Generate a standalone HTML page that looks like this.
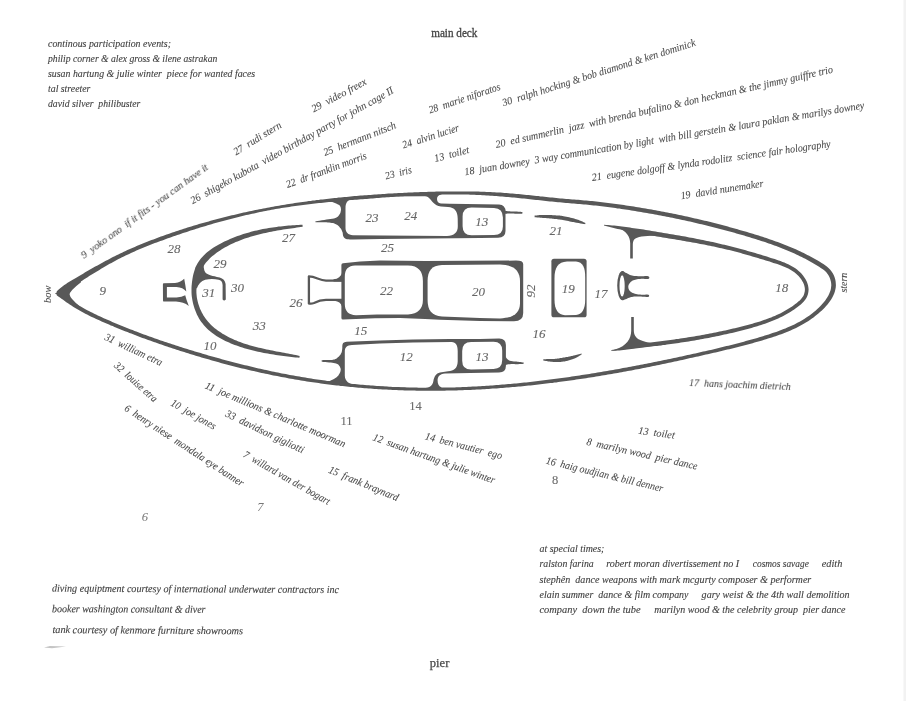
<!DOCTYPE html>
<html><head><meta charset="utf-8"><title>main deck</title>
<style>
html,body{margin:0;padding:0;background:#fff;}
body{width:906px;height:701px;overflow:hidden;font-family:"Liberation Serif",serif;}
svg{display:block;}
text{font-family:"Liberation Serif",serif;}
</style></head><body>
<svg width="906" height="701" viewBox="0 0 906 701">
<rect width="906" height="701" fill="#fff"/>
<rect x="903.5" y="0" width="2.5" height="701" fill="#f2f2f2"/>
<g fill="#585858"><path d="M331.0,201.7 L332.3,202.1 L333.6,202.6 L334.9,203.1 L336.1,203.5 L337.1,204.0 L338.0,204.4 L338.7,204.8 L339.3,205.2 L339.8,205.6 L340.2,206.2 L340.5,206.9 L340.8,207.8 L340.9,208.7 L341.0,209.7 L340.9,210.6 L340.7,211.5 L340.5,212.5 L340.1,213.4 L339.6,214.3 L339.1,215.1 L338.6,215.8 L338.0,216.4 L337.3,217.0 L336.5,217.5 L335.4,218.0 L334.0,218.4 L332.3,218.7 L330.4,219.0 L328.5,219.3 L326.5,219.6 L324.3,220.0 L321.9,220.3 L319.5,220.7 L317.5,221.0 L316.0,221.3 L315.3,221.5 L315.1,221.6 L315.2,221.7 L315.5,221.7 L315.6,221.8 L315.5,221.9 L315.4,222.0 L315.4,222.1 L315.5,222.2 L316.0,222.3 L316.8,222.3 L318.0,222.3 L319.3,222.3 L320.7,222.3 L322.1,222.3 L323.5,222.3 L324.9,222.3 L326.4,222.3 L327.8,222.4 L329.2,222.5 L330.5,222.7 L331.8,222.9 L333.1,223.1 L334.3,223.5 L335.4,223.9 L336.4,224.4 L337.4,225.1 L338.3,225.8 L339.1,226.6 L339.8,227.4 L340.5,228.2 L341.1,229.1 L341.6,230.1 L342.0,231.0 L342.4,231.9 L342.7,232.8 L342.8,233.8 L342.9,234.7 L343.0,235.5 L343.3,236.3 L343.7,237.0 L344.0,237.6 L344.5,238.1 L345.2,238.5 L346.0,238.9 L347.1,239.2 L348.5,239.3 L350.0,239.4 L351.5,239.5 L353.0,239.6 L380,239 L480,238.1 L498,237.7 Q505.5,237.5 505.5,231 L505.5,211.5 Q505.5,205 499,204.6 L450,203.8 L441,203.6 C438,203.3 437,201 437,199 C437,196.8 438.5,195 441.5,194.6 L441.5,193.0 L433.5,193.2 L425.5,193.4 L417.5,193.8 L409.5,194.2 L401.5,194.6 L393.5,195.1 L385.5,195.6 L377.5,196.2 L369.5,196.8 L361.5,197.4 L353.5,198.1 L345.5,198.8 L337.5,199.5 L331.0,200.2 Z"/>
<path d="M329.0,381.4 L330.3,380.8 L331.7,380.1 L333.0,379.4 L334.3,378.8 L335.4,378.1 L336.3,377.4 L337.1,376.8 L337.8,376.1 L338.4,375.4 L338.9,374.6 L339.4,373.7 L339.9,372.8 L340.3,371.9 L340.5,371.0 L340.7,370.1 L340.7,369.3 L340.6,368.6 L340.4,367.9 L340.1,367.2 L339.8,366.6 L339.4,366.0 L339.0,365.4 L338.5,364.8 L337.9,364.3 L337.1,363.9 L336.1,363.5 L335.0,363.3 L333.7,363.0 L332.3,362.8 L330.9,362.6 L329.2,362.4 L327.2,362.2 L325.3,362.0 L323.5,361.9 L322.3,361.7 L321.7,361.5 L321.5,361.4 L321.6,361.3 L321.8,361.1 L321.9,361.0 L321.8,360.8 L321.6,360.7 L321.5,360.5 L321.7,360.3 L322.3,360.2 L323.6,360.1 L325.3,360.1 L327.4,360.1 L329.3,360.1 L330.9,360.0 L332.1,359.9 L333.0,359.8 L333.9,359.6 L334.6,359.4 L335.4,359.1 L336.2,358.7 L336.9,358.2 L337.6,357.6 L338.3,357.0 L338.9,356.4 L339.5,355.8 L340.1,355.1 L340.6,354.4 L341.0,353.6 L341.4,352.9 L341.7,352.1 L341.9,351.3 L342.0,350.5 L342.1,349.7 L342.2,348.9 L342.3,348.1 L342.3,347.3 L342.3,346.6 L342.3,345.9 L342.4,345.2 L342.5,344.6 L342.7,344.0 L342.9,343.5 L343.2,343.1 L343.6,342.7 L344.1,342.4 L344.6,342.2 L345.3,342.1 L345.9,342.0 L346.5,341.8 L380,340.5 L413,339.6 L450,339.1 L480,339 L499,338.5 Q505.9,338.4 505.9,345 L505.9,366 Q505.9,372.4 499,372.5 L470,372.9 L445,373.5 C439.5,373.8 437.6,377 437.6,380.5 C437.6,384 439,386.6 441.5,387.3 L441.5,389.2 L433.5,389.3 L425.5,389.2 L417.5,389.2 L409.5,389.0 L401.5,388.8 L393.5,388.4 L385.5,388.0 L377.5,387.5 L369.5,387.0 L361.5,386.3 L353.5,385.6 L345.5,384.8 L337.5,383.9 L329.5,382.9 L329.0,382.8 Z"/>
<path d="M341.4,265 Q341.4,263.4 343,263.2 L360,261.4 L380,260.6 L425,260.9 L516,260.6 Q523.2,260.6 523.2,264 L523.2,313 Q523.2,321.2 514,321.3 L480,321 L440,319.8 L425,319 L400,318.1 L375,318.2 L343,319.6 Q341.4,319.6 341.4,318 Z"/>
<path d="M554,258.7 L584,258.7 Q586.6,258.7 586.6,261.3 L586.6,314.7 Q586.6,317.3 584,317.3 L554,317.3 Q551.4,317.3 551.4,314.7 L551.4,261.3 Q551.4,258.7 554,258.7 Z"/>
<ellipse cx="622.2" cy="285.6" rx="5.0" ry="14.4"/><path d="M621.6,271.3 L622.2,270.9 L623.0,271.1 L623.9,271.6 L624.7,272.2 L625.6,272.7 L626.4,273.1 L627.3,273.6 L628.2,274.1 L629.1,274.5 L630.0,274.9 L631.0,275.2 L632.0,275.5 L633.0,275.7 L634.1,275.9 L635.3,276.0 L636.6,276.1 L638.1,276.2 L639.6,276.2 L641.0,276.2 L642.4,276.2 L643.7,276.2 L645.0,276.1 L646.2,276.1 L647.3,276.1 L648.1,276.2 L648.7,276.4 L649.0,276.7 L649.2,277.0 L649.3,277.3 L649.3,277.6 L649.3,277.9 L649.2,278.2 L649.0,278.6 L648.7,278.8 L648.1,279.0 L647.2,279.1 L646.1,279.0 L644.9,278.9 L643.6,278.8 L642.4,278.8 L641.3,278.8 L640.2,278.9 L639.1,279.0 L638.1,279.1 L637.1,279.3 L636.1,279.5 L635.2,279.7 L634.3,279.9 L633.5,280.2 L632.7,280.6 L632.0,281.0 L631.3,281.6 L630.6,282.1 L630.1,282.7 L629.6,283.3 L629.2,283.9 L628.8,284.4 L628.6,285.0 L628.4,285.7 L628.3,286.3 L628.3,287.0 L628.4,287.7 L628.5,288.5 L628.8,289.2 L629.1,289.9 L629.5,290.5 L629.9,291.1 L630.4,291.6 L631.1,292.0 L631.8,292.5 L632.7,292.9 L633.7,293.3 L634.9,293.7 L636.0,294.0 L637.1,294.3 L638.2,294.5 L639.2,294.6 L640.3,294.6 L641.3,294.7 L642.4,294.7 L643.6,294.7 L644.9,294.7 L646.1,294.6 L647.3,294.6 L648.1,294.7 L648.6,294.8 L648.9,295.1 L649.1,295.3 L649.1,295.6 L649.1,295.8 L649.1,296.0 L649.1,296.3 L648.9,296.6 L648.6,296.8 L648.1,296.9 L647.3,296.9 L646.2,296.9 L645.0,296.8 L643.7,296.8 L642.4,296.7 L641.0,296.6 L639.6,296.6 L638.1,296.5 L636.6,296.5 L635.3,296.5 L634.1,296.6 L633.0,296.7 L632.0,296.9 L631.0,297.1 L630.0,297.4 L629.1,297.7 L628.2,298.1 L627.3,298.5 L626.4,298.9 L625.6,299.2 L624.7,299.5 L623.9,300.0 L623.0,300.3 L622.2,300.3 L621.6,299.9 L621.1,298.9 L620.7,297.6 L620.4,295.9 L620.2,294.0 L620.0,292.0 L619.9,289.8 L619.8,287.3 L619.8,284.8 L619.9,282.3 L620.0,280.0 L620.2,277.9 L620.4,275.8 L620.7,273.9 L621.1,272.3 Z"/>
<path d="M342,273 Q340.5,278.6 333.5,279.3 L333.5,281.4 L342,281.6 Z M342,306.6 Q340.5,301.6 334.5,300.8 L334.5,299 L342,299 Z"/></g>
<g fill="#fff"><path d="M345.5,208 C345.5,202.5 348,199.5 353,199.1 L380,196.6 L425,196.3 C429.5,196.5 431,201 433.9,203.3 C435.5,204.6 437,206.2 441,206.6 L448,206.9 C454.5,207.3 457.7,211 457.7,218.4 L457.8,226 C458,232.5 454,235.8 447,236 L353,235.2 C348,235 345.5,232 345.5,228 Z"/>
<path d="M471.6,207.5 L494,208.1 Q502.9,208.6 502.9,217.5 L502.9,226.5 Q502.9,235 494,235 L471.6,235.2 Q462.6,235.2 462.6,226.2 L462.6,216.5 Q462.6,207.5 471.6,207.5 Z"/>
<path d="M344.8,277 C344.8,269 348.5,265.9 355,265.6 L408,265.4 C418.5,265.6 422.9,271 422.9,281 L422.9,300 C422.9,309 418,313.8 408,314.4 L377,314.6 L356,315.2 C348.5,315 344.8,311 344.8,304 Z"/>
<path d="M427.6,281 C427.6,271 431.5,265.4 442,265 L500,264.5 C513,264.8 519.9,270 520,281.1 L520,303.4 C519.8,313 513,318 500,318.4 L480,317.9 L442,316.4 C431.5,315.8 427.6,310 427.6,300 Z"/>
<path d="M554.5,278 C554.5,268 558,262 567,261.6 L576,261.6 C583,262 585.2,268 585.2,277 L585.2,300 C585.2,309 582,314.6 576,315 L565,315.2 C558,315 554.5,309 554.5,300 Z"/>
<path d="M344.8,352 C344.8,347 347,345.2 352,345 L380,343.6 L413,342.6 L451.6,342.1 C456,342.4 457.7,345.5 457.7,351 L457.7,361.5 C457.5,368 454,371 448,371.3 L440,372.4 C436,373.2 434,377 433.4,381 C432.6,386.3 429,388.2 423.3,388.2 L410,388 L380,386.6 L356.6,385.2 C349,384.4 344.8,381 344.8,375.4 Z"/>
<path d="M471.2,341.9 L493.5,341.7 Q502.2,341.7 502.2,350.5 L502.2,360 Q502.2,368.8 493.5,368.9 L471.2,369.6 Q462.2,369.7 462.2,360.7 L462.2,350.9 Q462.2,341.9 471.2,341.9 Z"/>
<ellipse cx="622.1" cy="285.9" rx="2.6" ry="10.6"/></g>
<path d="M342,280.6 L326,280.6 C319,280.4 316,276.6 308.9,276.4 L308.9,303.4 C311,304.2 312.5,303.6 314,303 C318,301 321,300 326,299.9 L342,299.9" fill="none" stroke="#585858" stroke-width="2.3" stroke-linejoin="round" stroke-linecap="round"/>
<g fill="#585858"><path d="M57.3,292.9 L59.4,292.4 L61.3,291.8 L63.3,291.2 L65.1,290.4 L67.0,289.5 L68.8,288.6 L70.5,287.7 L72.3,286.7 L74.0,285.7 L75.7,284.6 L77.4,283.6 L79.1,282.5 L80.8,281.4 L82.5,280.4 L84.2,279.3 L85.9,278.2 L87.6,277.2 L89.2,276.1 L90.9,275.1 L92.6,274.0 L94.3,273.0 L96.0,271.9 L97.7,270.9 L99.4,269.9 L101.1,268.8 L102.9,267.8 L104.6,266.8 L106.3,265.8 L108.0,264.8 L109.7,263.8 L111.5,262.9 L113.2,261.9 L115.0,261.0 L116.7,260.0 L118.5,259.1 L120.2,258.2 L122.0,257.3 L123.8,256.5 L125.6,255.6 L127.4,254.7 L129.2,253.9 L131.0,253.1 L132.8,252.2 L134.6,251.4 L136.4,250.6 L138.2,249.8 L140.0,249.1 L141.9,248.3 L143.7,247.5 L145.6,246.8 L147.4,246.0 L149.3,245.3 L151.1,244.6 L153.0,243.8 L154.8,243.1 L156.7,242.4 L158.5,241.7 L160.4,241.0 L162.3,240.4 L164.2,239.7 L166.0,239.0 L167.9,238.3 L169.8,237.7 L171.7,237.0 L173.6,236.3 L175.4,235.7 L177.3,235.0 L179.2,234.4 L181.1,233.8 L183.0,233.1 L184.9,232.5 L186.8,231.9 L188.7,231.2 L190.6,230.6 L192.5,230.0 L194.4,229.4 L196.3,228.8 L198.2,228.2 L200.1,227.6 L202.0,227.0 L203.9,226.5 L205.8,225.9 L207.7,225.3 L209.6,224.7 L211.5,224.2 L213.5,223.6 L215.4,223.1 L217.3,222.5 L219.2,222.0 L221.1,221.5 L223.1,220.9 L225.0,220.4 L226.9,219.9 L228.8,219.4 L230.8,218.9 L232.7,218.4 L234.6,217.9 L236.6,217.4 L238.5,216.9 L240.4,216.5 L242.4,216.0 L244.3,215.6 L246.2,215.1 L248.2,214.7 L250.1,214.2 L252.1,213.8 L254.0,213.4 L256.0,212.9 L257.9,212.5 L259.9,212.1 L261.8,211.7 L263.8,211.3 L265.7,210.9 L267.7,210.6 L269.6,210.2 L271.6,209.8 L273.6,209.5 L275.5,209.1 L277.5,208.8 L279.5,208.4 L281.4,208.1 L283.4,207.8 L285.4,207.5 L287.3,207.2 L289.3,206.9 L291.3,206.6 L293.2,206.3 L295.2,206.0 L297.2,205.7 L299.2,205.5 L301.2,205.2 L303.1,205.0 L305.1,204.7 L307.1,204.5 L309.1,204.2 L311.1,204.0 L313.0,203.8 L315.0,203.5 L317.0,203.3 L319.0,203.1 L321.0,202.9 L323.0,202.7 L325.0,202.5 L326.9,202.3 L328.9,202.1 L330.9,201.9 L332.9,201.7 L334.9,201.5 L336.9,201.3 L338.9,201.2 L340.9,201.0 L342.9,200.8 L344.9,200.6 L346.8,200.5 L348.8,200.3 L350.8,200.1 L352.8,200.0 L354.8,199.8 L356.8,199.7 L358.8,199.5 L360.8,199.3 L362.8,199.2 L364.8,199.0 L366.8,198.9 L368.8,198.7 L370.8,198.6 L372.7,198.4 L374.7,198.3 L376.7,198.1 L378.7,197.9 L380.7,197.8 L382.7,197.6 L384.7,197.5 L386.7,197.3 L388.7,197.2 L390.7,197.0 L392.7,196.9 L394.7,196.8 L396.6,196.6 L398.6,196.5 L400.6,196.3 L402.6,196.2 L404.6,196.1 L406.6,195.9 L408.6,195.8 L410.6,195.7 L412.6,195.6 L414.6,195.5 L416.6,195.4 L418.5,195.3 L420.5,195.2 L422.5,195.1 L424.5,195.0 L426.5,194.9 L428.5,194.8 L430.5,194.8 L432.5,194.7 L434.5,194.6 L436.5,194.6 L438.5,194.5 L440.5,194.5 L442.5,194.5 L444.5,194.4 L446.5,194.4 L448.4,194.4 L450.4,194.4 L452.4,194.4 L454.4,194.4 L456.4,194.4 L458.4,194.4 L460.4,194.5 L462.4,194.5 L464.4,194.5 L466.4,194.6 L468.4,194.6 L470.4,194.7 L472.4,194.8 L474.4,194.8 L476.4,194.9 L478.4,195.0 L480.4,195.1 L482.3,195.2 L484.3,195.3 L486.3,195.4 L488.3,195.5 L490.3,195.7 L492.3,195.8 L494.3,195.9 L496.3,196.1 L498.3,196.2 L500.3,196.4 L502.2,196.5 L504.2,196.7 L506.2,196.9 L508.2,197.0 L510.2,197.2 L512.2,197.4 L514.1,197.6 L516.1,197.8 L518.1,198.0 L520.1,198.2 L522.1,198.4 L524.1,198.6 L526.1,198.8 L528.0,199.1 L530.0,199.3 L532.0,199.5 L534.0,199.7 L536.0,199.9 L538.0,200.1 L540.0,200.3 L542.0,200.6 L543.9,200.8 L545.9,201.0 L547.9,201.2 L549.9,201.4 L551.9,201.6 L553.9,201.8 L555.9,202.0 L557.9,202.2 L559.9,202.3 L561.9,202.5 L563.9,202.7 L565.9,202.9 L567.9,203.0 L569.9,203.2 L571.9,203.4 L573.9,203.5 L575.8,203.7 L577.8,203.9 L579.8,204.0 L581.8,204.2 L583.8,204.4 L585.8,204.6 L587.8,204.8 L589.7,205.0 L591.7,205.2 L593.7,205.4 L595.7,205.6 L597.7,205.8 L599.7,206.0 L601.6,206.3 L603.6,206.5 L605.6,206.8 L607.6,207.0 L609.5,207.3 L611.5,207.5 L613.5,207.8 L615.5,208.1 L617.4,208.4 L619.4,208.6 L621.4,208.9 L623.4,209.2 L625.3,209.5 L627.3,209.8 L629.3,210.1 L631.3,210.4 L633.2,210.7 L635.2,211.0 L637.2,211.4 L639.1,211.7 L641.1,212.0 L643.1,212.4 L645.0,212.7 L647.0,213.0 L649.0,213.4 L650.9,213.7 L652.9,214.1 L654.9,214.4 L656.8,214.8 L658.8,215.2 L660.7,215.5 L662.7,215.9 L664.7,216.3 L666.6,216.7 L668.6,217.1 L670.5,217.5 L672.5,217.8 L674.4,218.2 L676.4,218.7 L678.3,219.1 L680.3,219.5 L682.2,219.9 L684.2,220.3 L686.1,220.7 L688.1,221.2 L690.0,221.6 L692.0,222.0 L693.9,222.5 L695.9,222.9 L697.8,223.4 L699.8,223.9 L701.7,224.3 L703.6,224.8 L705.6,225.2 L707.5,225.7 L709.4,226.2 L711.4,226.7 L713.3,227.2 L715.2,227.7 L717.2,228.2 L719.1,228.7 L721.0,229.2 L723.0,229.7 L724.9,230.2 L726.8,230.7 L728.7,231.2 L730.7,231.8 L732.6,232.3 L734.5,232.8 L736.4,233.4 L738.3,233.9 L740.2,234.5 L742.2,235.0 L744.1,235.6 L746.0,236.2 L747.9,236.7 L749.8,237.3 L751.7,237.9 L753.6,238.5 L755.5,239.1 L757.4,239.7 L759.3,240.3 L761.2,240.9 L763.1,241.5 L765.0,242.1 L766.8,242.8 L768.7,243.4 L770.6,244.1 L772.5,244.7 L774.3,245.4 L776.2,246.1 L778.0,246.8 L779.9,247.5 L781.7,248.2 L783.6,248.9 L785.4,249.7 L787.3,250.4 L789.1,251.2 L790.9,252.0 L792.7,252.8 L794.5,253.6 L796.3,254.5 L798.1,255.3 L799.9,256.2 L801.7,257.0 L803.5,257.9 L805.3,258.8 L807.0,259.8 L808.8,260.7 L810.5,261.7 L812.3,262.7 L814.0,263.7 L815.7,264.7 L817.4,265.7 L819.1,266.8 L820.8,267.9 L822.4,269.0 L823.9,270.1 L825.3,271.3 L826.5,272.6 L827.6,274.0 L828.6,275.5 L829.4,277.0 L830.1,278.7 L830.6,280.4 L831.0,282.1 L831.2,283.8 L831.3,285.4 L831.1,287.1 L830.9,288.8 L830.5,290.4 L829.9,292.1 L829.2,293.7 L828.4,295.4 L827.5,297.0 L826.5,298.6 L825.4,300.2 L824.2,301.8 L822.9,303.3 L821.6,304.8 L820.2,306.3 L818.7,307.7 L817.3,309.1 L815.8,310.4 L814.2,311.7 L812.7,313.0 L811.1,314.2 L809.5,315.4 L807.9,316.5 L806.3,317.6 L804.6,318.7 L803.0,319.7 L801.3,320.7 L799.6,321.7 L797.9,322.6 L796.1,323.5 L794.4,324.4 L792.6,325.2 L790.9,326.0 L789.1,326.8 L787.3,327.6 L785.4,328.4 L783.6,329.1 L781.8,329.8 L779.9,330.5 L778.1,331.2 L776.2,331.9 L774.3,332.5 L772.5,333.1 L770.6,333.8 L768.7,334.4 L766.8,335.0 L764.9,335.6 L763.0,336.2 L761.1,336.7 L759.2,337.3 L757.3,337.9 L755.4,338.4 L753.5,339.0 L751.5,339.5 L749.6,340.1 L747.7,340.6 L745.8,341.1 L743.9,341.7 L741.9,342.2 L740.0,342.7 L738.1,343.2 L736.1,343.7 L734.2,344.2 L732.3,344.7 L730.3,345.2 L728.4,345.7 L726.5,346.1 L724.5,346.6 L722.6,347.1 L720.6,347.6 L718.7,348.0 L716.8,348.5 L714.8,348.9 L712.9,349.4 L710.9,349.9 L709.0,350.3 L707.0,350.8 L705.1,351.2 L703.1,351.6 L701.2,352.1 L699.2,352.5 L697.3,353.0 L695.3,353.4 L693.4,353.8 L691.4,354.3 L689.5,354.7 L687.5,355.1 L685.6,355.6 L683.6,356.0 L681.7,356.4 L679.7,356.8 L677.8,357.2 L675.8,357.7 L673.9,358.1 L671.9,358.5 L670.0,358.9 L668.0,359.3 L666.1,359.7 L664.1,360.1 L662.1,360.5 L660.2,360.9 L658.2,361.3 L656.3,361.7 L654.3,362.1 L652.4,362.5 L650.4,362.9 L648.4,363.3 L646.5,363.7 L644.5,364.1 L642.6,364.4 L640.6,364.8 L638.6,365.2 L636.7,365.6 L634.7,365.9 L632.8,366.3 L630.8,366.7 L628.8,367.1 L626.9,367.4 L624.9,367.8 L622.9,368.1 L621.0,368.5 L619.0,368.9 L617.0,369.2 L615.1,369.6 L613.1,369.9 L611.1,370.3 L609.2,370.6 L607.2,370.9 L605.2,371.3 L603.3,371.6 L601.3,371.9 L599.3,372.3 L597.4,372.6 L595.4,372.9 L593.4,373.3 L591.4,373.6 L589.5,373.9 L587.5,374.2 L585.5,374.5 L583.6,374.8 L581.6,375.1 L579.6,375.4 L577.6,375.7 L575.7,376.0 L573.7,376.3 L571.7,376.6 L569.7,376.9 L567.8,377.2 L565.8,377.5 L563.8,377.7 L561.8,378.0 L559.8,378.3 L557.9,378.6 L555.9,378.8 L553.9,379.1 L551.9,379.3 L549.9,379.6 L548.0,379.8 L546.0,380.1 L544.0,380.3 L542.0,380.6 L540.0,380.8 L538.1,381.1 L536.1,381.3 L534.1,381.5 L532.1,381.7 L530.1,382.0 L528.1,382.2 L526.2,382.4 L524.2,382.6 L522.2,382.8 L520.2,383.0 L518.2,383.2 L516.2,383.4 L514.3,383.6 L512.3,383.8 L510.3,384.0 L508.3,384.1 L506.3,384.3 L504.3,384.5 L502.3,384.6 L500.3,384.8 L498.4,385.0 L496.4,385.1 L494.4,385.3 L492.4,385.4 L490.4,385.6 L488.4,385.7 L486.4,385.8 L484.4,386.0 L482.4,386.1 L480.4,386.2 L478.5,386.3 L476.5,386.4 L474.5,386.5 L472.5,386.6 L470.5,386.7 L468.5,386.8 L466.5,386.9 L464.5,387.0 L462.5,387.1 L460.5,387.2 L458.5,387.2 L456.5,387.3 L454.6,387.4 L452.6,387.4 L450.6,387.5 L448.6,387.5 L446.6,387.6 L444.6,387.6 L442.6,387.6 L440.6,387.7 L438.6,387.7 L436.6,387.7 L434.6,387.7 L432.6,387.7 L430.6,387.7 L428.6,387.7 L426.6,387.7 L424.6,387.7 L422.6,387.7 L420.6,387.7 L418.6,387.7 L416.7,387.6 L414.7,387.6 L412.7,387.6 L410.7,387.5 L408.7,387.5 L406.7,387.4 L404.7,387.3 L402.7,387.3 L400.7,387.2 L398.7,387.1 L396.7,387.0 L394.7,386.9 L392.7,386.9 L390.7,386.8 L388.7,386.7 L386.7,386.5 L384.7,386.4 L382.7,386.3 L380.7,386.2 L378.7,386.1 L376.8,385.9 L374.8,385.8 L372.8,385.6 L370.8,385.5 L368.8,385.3 L366.8,385.2 L364.8,385.0 L362.8,384.8 L360.8,384.7 L358.8,384.5 L356.8,384.3 L354.9,384.1 L352.9,383.9 L350.9,383.7 L348.9,383.5 L346.9,383.3 L344.9,383.1 L342.9,382.8 L341.0,382.6 L339.0,382.4 L337.0,382.1 L335.0,381.9 L333.0,381.7 L331.0,381.4 L329.1,381.1 L327.1,380.9 L325.1,380.6 L323.1,380.3 L321.2,380.1 L319.2,379.8 L317.2,379.5 L315.2,379.2 L313.3,378.9 L311.3,378.6 L309.3,378.3 L307.3,377.9 L305.4,377.6 L303.4,377.3 L301.4,377.0 L299.5,376.6 L297.5,376.3 L295.6,375.9 L293.6,375.6 L291.6,375.2 L289.7,374.9 L287.7,374.5 L285.8,374.1 L283.8,373.8 L281.8,373.4 L279.9,373.0 L277.9,372.6 L276.0,372.2 L274.0,371.8 L272.1,371.4 L270.1,371.0 L268.2,370.5 L266.2,370.1 L264.3,369.7 L262.4,369.3 L260.4,368.8 L258.5,368.4 L256.5,367.9 L254.6,367.5 L252.7,367.0 L250.7,366.6 L248.8,366.1 L246.8,365.6 L244.9,365.2 L243.0,364.7 L241.0,364.2 L239.1,363.7 L237.2,363.2 L235.2,362.7 L233.3,362.2 L231.4,361.7 L229.5,361.2 L227.5,360.7 L225.6,360.2 L223.7,359.7 L221.8,359.2 L219.8,358.6 L217.9,358.1 L216.0,357.6 L214.1,357.0 L212.2,356.5 L210.2,355.9 L208.3,355.4 L206.4,354.8 L204.5,354.3 L202.6,353.7 L200.7,353.1 L198.7,352.6 L196.8,352.0 L194.9,351.4 L193.0,350.8 L191.1,350.3 L189.2,349.7 L187.3,349.1 L185.4,348.5 L183.5,347.9 L181.6,347.3 L179.7,346.7 L177.8,346.1 L175.9,345.5 L174.0,344.8 L172.1,344.2 L170.2,343.6 L168.3,343.0 L166.4,342.3 L164.5,341.7 L162.6,341.1 L160.7,340.4 L158.8,339.8 L156.9,339.1 L155.0,338.4 L153.2,337.8 L151.3,337.1 L149.4,336.4 L147.5,335.8 L145.7,335.1 L143.8,334.4 L141.9,333.7 L140.0,333.0 L138.2,332.3 L136.3,331.6 L134.5,330.9 L132.6,330.1 L130.7,329.4 L128.9,328.7 L127.0,328.0 L125.2,327.2 L123.3,326.5 L121.5,325.7 L119.6,325.0 L117.8,324.2 L116.0,323.4 L114.1,322.7 L112.3,321.9 L110.5,321.1 L108.7,320.3 L106.8,319.5 L105.0,318.7 L103.2,317.9 L101.4,317.1 L99.6,316.3 L97.8,315.4 L96.0,314.6 L94.2,313.7 L92.5,312.8 L90.7,312.0 L88.9,311.1 L87.2,310.2 L85.4,309.2 L83.7,308.3 L82.0,307.3 L80.3,306.3 L78.6,305.4 L76.9,304.3 L75.2,303.3 L73.5,302.3 L71.8,301.2 L70.2,300.1 L68.5,299.0 L66.8,297.9 L65.0,296.8 L63.2,295.8 L61.4,294.9 L59.4,294.2 L57.4,293.7 L56.7,295.3 L58.3,296.4 L59.9,297.6 L61.5,298.7 L63.1,299.8 L64.7,301.0 L66.3,302.2 L68.0,303.3 L69.7,304.5 L71.4,305.6 L73.1,306.7 L74.8,307.7 L76.5,308.8 L78.3,309.8 L80.0,310.8 L81.8,311.8 L83.6,312.7 L85.3,313.7 L87.1,314.6 L88.9,315.5 L90.7,316.4 L92.5,317.3 L94.3,318.1 L96.2,319.0 L98.0,319.8 L99.8,320.6 L101.6,321.4 L103.5,322.2 L105.3,323.0 L107.1,323.8 L109.0,324.6 L110.8,325.4 L112.7,326.1 L114.5,326.9 L116.4,327.7 L118.2,328.4 L120.1,329.2 L121.9,329.9 L123.8,330.7 L125.7,331.4 L127.5,332.1 L129.4,332.9 L131.3,333.6 L133.1,334.3 L135.0,335.0 L136.9,335.7 L138.7,336.5 L140.6,337.2 L142.5,337.9 L144.4,338.6 L146.3,339.2 L148.1,339.9 L150.0,340.6 L151.9,341.3 L153.8,342.0 L155.7,342.6 L157.6,343.3 L159.5,343.9 L161.4,344.6 L163.3,345.3 L165.2,345.9 L167.1,346.5 L169.0,347.2 L170.9,347.8 L172.8,348.4 L174.7,349.1 L176.6,349.7 L178.5,350.3 L180.4,350.9 L182.3,351.5 L184.2,352.1 L186.1,352.7 L188.1,353.3 L190.0,353.9 L191.9,354.5 L193.8,355.1 L195.7,355.7 L197.6,356.3 L199.6,356.8 L201.5,357.4 L203.4,358.0 L205.3,358.5 L207.3,359.1 L209.2,359.6 L211.1,360.2 L213.0,360.7 L215.0,361.3 L216.9,361.8 L218.8,362.3 L220.8,362.9 L222.7,363.4 L224.6,363.9 L226.6,364.4 L228.5,364.9 L230.4,365.4 L232.4,365.9 L234.3,366.4 L236.2,366.9 L238.2,367.4 L240.1,367.9 L242.1,368.4 L244.0,368.8 L246.0,369.3 L247.9,369.8 L249.8,370.2 L251.8,370.7 L253.7,371.1 L255.7,371.6 L257.7,372.0 L259.6,372.4 L261.6,372.9 L263.5,373.3 L265.5,373.7 L267.4,374.1 L269.4,374.5 L271.3,375.0 L273.3,375.4 L275.3,375.7 L277.2,376.1 L279.2,376.5 L281.2,376.9 L283.1,377.3 L285.1,377.6 L287.1,378.0 L289.0,378.4 L291.0,378.7 L293.0,379.1 L294.9,379.4 L296.9,379.8 L298.9,380.1 L300.9,380.4 L302.8,380.7 L304.8,381.1 L306.8,381.4 L308.8,381.7 L310.8,382.0 L312.7,382.3 L314.7,382.6 L316.7,382.8 L318.7,383.1 L320.7,383.4 L322.7,383.7 L324.7,383.9 L326.6,384.2 L328.6,384.4 L330.6,384.7 L332.6,384.9 L334.6,385.2 L336.6,385.4 L338.6,385.6 L340.6,385.9 L342.6,386.1 L344.6,386.3 L346.6,386.5 L348.6,386.7 L350.6,386.9 L352.6,387.1 L354.5,387.3 L356.5,387.5 L358.5,387.7 L360.5,387.8 L362.5,388.0 L364.5,388.2 L366.5,388.3 L368.5,388.5 L370.5,388.6 L372.5,388.8 L374.5,388.9 L376.5,389.0 L378.5,389.2 L380.5,389.3 L382.5,389.4 L384.6,389.5 L386.6,389.6 L388.6,389.7 L390.6,389.8 L392.6,389.9 L394.6,390.0 L396.6,390.1 L398.6,390.2 L400.6,390.2 L402.6,390.3 L404.6,390.4 L406.6,390.4 L408.6,390.5 L410.6,390.5 L412.6,390.6 L414.6,390.6 L416.6,390.7 L418.6,390.7 L420.6,390.7 L422.6,390.7 L424.6,390.8 L426.6,390.8 L428.6,390.8 L430.6,390.8 L432.6,390.8 L434.6,390.8 L436.6,390.8 L438.6,390.7 L440.6,390.7 L442.6,390.7 L444.6,390.7 L446.6,390.6 L448.6,390.6 L450.6,390.6 L452.6,390.5 L454.6,390.5 L456.6,390.4 L458.6,390.3 L460.6,390.3 L462.6,390.2 L464.6,390.1 L466.6,390.0 L468.6,390.0 L470.6,389.9 L472.6,389.8 L474.6,389.7 L476.6,389.6 L478.6,389.5 L480.6,389.4 L482.6,389.3 L484.6,389.2 L486.6,389.0 L488.6,388.9 L490.6,388.8 L492.6,388.6 L494.6,388.5 L496.6,388.4 L498.6,388.2 L500.6,388.1 L502.6,387.9 L504.6,387.8 L506.6,387.6 L508.6,387.4 L510.6,387.3 L512.6,387.1 L514.6,386.9 L516.6,386.7 L518.5,386.6 L520.5,386.4 L522.5,386.2 L524.5,386.0 L526.5,385.8 L528.5,385.6 L530.5,385.4 L532.5,385.2 L534.5,384.9 L536.5,384.7 L538.5,384.5 L540.4,384.3 L542.4,384.1 L544.4,383.8 L546.4,383.6 L548.4,383.3 L550.4,383.1 L552.4,382.9 L554.4,382.6 L556.3,382.4 L558.3,382.1 L560.3,381.8 L562.3,381.6 L564.3,381.3 L566.3,381.0 L568.3,380.8 L570.2,380.5 L572.2,380.2 L574.2,379.9 L576.2,379.6 L578.2,379.3 L580.2,379.1 L582.1,378.8 L584.1,378.5 L586.1,378.2 L588.1,377.8 L590.1,377.5 L592.0,377.2 L594.0,376.9 L596.0,376.6 L598.0,376.3 L599.9,375.9 L601.9,375.6 L603.9,375.3 L605.9,375.0 L607.8,374.6 L609.8,374.3 L611.8,373.9 L613.8,373.6 L615.7,373.2 L617.7,372.9 L619.7,372.5 L621.6,372.2 L623.6,371.8 L625.6,371.5 L627.6,371.1 L629.5,370.7 L631.5,370.4 L633.5,370.0 L635.4,369.6 L637.4,369.2 L639.4,368.9 L641.3,368.5 L643.3,368.1 L645.2,367.7 L647.2,367.3 L649.2,366.9 L651.1,366.5 L653.1,366.1 L655.1,365.7 L657.0,365.3 L659.0,364.9 L660.9,364.5 L662.9,364.1 L664.8,363.7 L666.8,363.3 L668.8,362.8 L670.7,362.4 L672.7,362.0 L674.6,361.6 L676.6,361.2 L678.5,360.7 L680.5,360.3 L682.4,359.9 L684.4,359.4 L686.3,359.0 L688.3,358.6 L690.2,358.1 L692.2,357.7 L694.1,357.3 L696.1,356.8 L698.1,356.4 L700.0,355.9 L702.0,355.5 L703.9,355.1 L705.9,354.6 L707.8,354.2 L709.8,353.7 L711.7,353.3 L713.7,352.8 L715.6,352.4 L717.6,351.9 L719.5,351.5 L721.5,351.0 L723.4,350.6 L725.4,350.1 L727.3,349.6 L729.3,349.2 L731.2,348.7 L733.2,348.2 L735.1,347.7 L737.1,347.2 L739.0,346.8 L740.9,346.3 L742.9,345.8 L744.8,345.3 L746.8,344.7 L748.7,344.2 L750.6,343.7 L752.6,343.2 L754.5,342.6 L756.4,342.1 L758.4,341.5 L760.3,341.0 L762.2,340.4 L764.1,339.8 L766.0,339.2 L768.0,338.6 L769.9,338.0 L771.8,337.4 L773.7,336.8 L775.6,336.2 L777.5,335.5 L779.4,334.8 L781.3,334.2 L783.2,333.4 L785.0,332.7 L786.9,332.0 L788.8,331.2 L790.6,330.4 L792.5,329.6 L794.3,328.8 L796.1,327.9 L797.9,327.0 L799.7,326.1 L801.5,325.1 L803.3,324.1 L805.0,323.1 L806.7,322.0 L808.5,320.9 L810.2,319.8 L811.9,318.6 L813.5,317.4 L815.2,316.1 L816.8,314.8 L818.4,313.5 L820.0,312.1 L821.6,310.7 L823.1,309.2 L824.6,307.7 L826.1,306.1 L827.5,304.5 L828.8,302.8 L830.1,301.1 L831.3,299.3 L832.3,297.5 L833.3,295.6 L834.1,293.7 L834.8,291.7 L835.3,289.7 L835.7,287.7 L835.9,285.6 L835.8,283.5 L835.6,281.3 L835.2,279.2 L834.5,277.1 L833.7,275.0 L832.6,273.1 L831.4,271.2 L830.0,269.5 L828.5,267.9 L826.8,266.5 L825.1,265.2 L823.4,264.0 L821.6,262.9 L819.8,261.8 L818.1,260.8 L816.3,259.7 L814.5,258.7 L812.7,257.7 L810.9,256.8 L809.1,255.8 L807.3,254.9 L805.5,253.9 L803.7,253.0 L801.9,252.2 L800.0,251.3 L798.2,250.4 L796.3,249.6 L794.5,248.8 L792.6,248.0 L790.8,247.2 L788.9,246.4 L787.1,245.7 L785.2,244.9 L783.3,244.2 L781.5,243.5 L779.6,242.7 L777.7,242.0 L775.8,241.4 L773.9,240.7 L772.0,240.0 L770.1,239.4 L768.2,238.7 L766.3,238.1 L764.4,237.4 L762.5,236.8 L760.6,236.2 L758.7,235.6 L756.8,235.0 L754.9,234.4 L752.9,233.8 L751.0,233.2 L749.1,232.7 L747.2,232.1 L745.3,231.5 L743.3,231.0 L741.4,230.4 L739.5,229.9 L737.6,229.3 L735.6,228.8 L733.7,228.2 L731.8,227.7 L729.8,227.2 L727.9,226.6 L726.0,226.1 L724.0,225.6 L722.1,225.1 L720.2,224.6 L718.2,224.1 L716.3,223.6 L714.3,223.1 L712.4,222.6 L710.5,222.1 L708.5,221.6 L706.6,221.1 L704.6,220.7 L702.7,220.2 L700.7,219.7 L698.8,219.3 L696.8,218.8 L694.9,218.4 L692.9,217.9 L691.0,217.5 L689.0,217.1 L687.0,216.6 L685.1,216.2 L683.1,215.8 L681.2,215.3 L679.2,214.9 L677.2,214.5 L675.3,214.1 L673.3,213.7 L671.4,213.3 L669.4,212.9 L667.4,212.5 L665.5,212.2 L663.5,211.8 L661.5,211.4 L659.6,211.0 L657.6,210.7 L655.6,210.3 L653.6,209.9 L651.7,209.6 L649.7,209.2 L647.7,208.9 L645.7,208.6 L643.8,208.2 L641.8,207.9 L639.8,207.6 L637.8,207.2 L635.9,206.9 L633.9,206.6 L631.9,206.3 L629.9,206.0 L627.9,205.7 L626.0,205.4 L624.0,205.1 L622.0,204.8 L620.0,204.5 L618.0,204.3 L616.0,204.0 L614.0,203.7 L612.1,203.5 L610.1,203.2 L608.1,202.9 L606.1,202.7 L604.1,202.5 L602.1,202.2 L600.1,202.0 L598.1,201.8 L596.1,201.5 L594.1,201.3 L592.1,201.1 L590.2,200.9 L588.2,200.7 L586.2,200.5 L584.2,200.4 L582.2,200.2 L580.2,200.0 L578.2,199.8 L576.2,199.7 L574.2,199.5 L572.2,199.4 L570.2,199.2 L568.2,199.0 L566.2,198.9 L564.2,198.7 L562.2,198.5 L560.3,198.4 L558.3,198.2 L556.3,198.0 L554.3,197.8 L552.3,197.6 L550.3,197.4 L548.3,197.2 L546.4,197.0 L544.4,196.8 L542.4,196.6 L540.4,196.4 L538.4,196.1 L536.4,195.9 L534.4,195.7 L532.4,195.5 L530.5,195.3 L528.5,195.1 L526.5,194.9 L524.5,194.7 L522.5,194.5 L520.5,194.3 L518.5,194.1 L516.5,193.9 L514.5,193.7 L512.5,193.5 L510.5,193.4 L508.5,193.2 L506.5,193.0 L504.5,192.9 L502.5,192.7 L500.5,192.6 L498.5,192.5 L496.5,192.4 L494.5,192.3 L492.5,192.2 L490.5,192.1 L488.5,192.0 L486.5,191.9 L484.5,191.8 L482.5,191.7 L480.5,191.7 L478.5,191.6 L476.5,191.6 L474.5,191.5 L472.5,191.5 L470.5,191.5 L468.5,191.4 L466.5,191.4 L464.5,191.4 L462.4,191.4 L460.4,191.4 L458.4,191.4 L456.4,191.4 L454.4,191.4 L452.4,191.4 L450.4,191.4 L448.4,191.4 L446.4,191.5 L444.4,191.5 L442.4,191.5 L440.4,191.6 L438.4,191.6 L436.4,191.6 L434.4,191.7 L432.4,191.7 L430.4,191.8 L428.4,191.8 L426.4,191.9 L424.4,192.0 L422.4,192.0 L420.4,192.1 L418.4,192.2 L416.4,192.2 L414.4,192.3 L412.4,192.4 L410.4,192.5 L408.4,192.6 L406.4,192.7 L404.4,192.8 L402.4,192.9 L400.4,193.0 L398.4,193.1 L396.4,193.2 L394.4,193.3 L392.4,193.4 L390.4,193.5 L388.4,193.6 L386.4,193.8 L384.4,193.9 L382.5,194.0 L380.5,194.2 L378.5,194.3 L376.5,194.4 L374.5,194.6 L372.5,194.7 L370.5,194.9 L368.5,195.0 L366.5,195.2 L364.5,195.3 L362.5,195.5 L360.5,195.6 L358.5,195.8 L356.5,196.0 L354.5,196.1 L352.5,196.3 L350.5,196.5 L348.5,196.7 L346.5,196.9 L344.5,197.1 L342.5,197.3 L340.5,197.4 L338.5,197.6 L336.5,197.9 L334.6,198.1 L332.6,198.3 L330.6,198.5 L328.6,198.7 L326.6,198.9 L324.6,199.2 L322.6,199.4 L320.6,199.6 L318.6,199.9 L316.6,200.1 L314.6,200.4 L312.7,200.6 L310.7,200.9 L308.7,201.1 L306.7,201.4 L304.7,201.7 L302.7,202.0 L300.7,202.2 L298.8,202.5 L296.8,202.8 L294.8,203.1 L292.8,203.4 L290.8,203.7 L288.9,204.0 L286.9,204.3 L284.9,204.7 L282.9,205.0 L281.0,205.3 L279.0,205.7 L277.0,206.0 L275.0,206.3 L273.1,206.7 L271.1,207.1 L269.1,207.4 L267.2,207.8 L265.2,208.2 L263.2,208.5 L261.3,208.9 L259.3,209.3 L257.3,209.7 L255.4,210.1 L253.4,210.5 L251.5,210.9 L249.5,211.3 L247.5,211.8 L245.6,212.2 L243.6,212.6 L241.7,213.1 L239.7,213.5 L237.8,213.9 L235.8,214.4 L233.9,214.9 L231.9,215.3 L230.0,215.8 L228.0,216.3 L226.1,216.8 L224.1,217.2 L222.2,217.7 L220.3,218.2 L218.3,218.7 L216.4,219.3 L214.5,219.8 L212.5,220.3 L210.6,220.8 L208.7,221.4 L206.7,221.9 L204.8,222.4 L202.9,223.0 L200.9,223.5 L199.0,224.1 L197.1,224.7 L195.2,225.2 L193.3,225.8 L191.3,226.4 L189.4,227.0 L187.5,227.6 L185.6,228.2 L183.7,228.8 L181.8,229.4 L179.9,230.0 L178.0,230.7 L176.1,231.3 L174.2,231.9 L172.3,232.6 L170.4,233.2 L168.5,233.9 L166.6,234.5 L164.7,235.2 L162.8,235.9 L160.9,236.6 L159.0,237.3 L157.1,238.0 L155.3,238.7 L153.4,239.4 L151.5,240.1 L149.6,240.8 L147.8,241.5 L145.9,242.3 L144.0,243.0 L142.2,243.8 L140.3,244.5 L138.5,245.3 L136.6,246.1 L134.8,246.9 L132.9,247.7 L131.1,248.5 L129.3,249.3 L127.4,250.1 L125.6,251.0 L123.8,251.8 L122.0,252.7 L120.1,253.5 L118.3,254.4 L116.5,255.3 L114.7,256.2 L112.9,257.1 L111.1,258.0 L109.4,258.9 L107.6,259.9 L105.8,260.8 L104.0,261.8 L102.3,262.7 L100.5,263.7 L98.8,264.7 L97.0,265.7 L95.2,266.6 L93.5,267.6 L91.8,268.6 L90.0,269.6 L88.3,270.6 L86.5,271.6 L84.8,272.6 L83.1,273.7 L81.3,274.7 L79.6,275.7 L77.9,276.7 L76.2,277.7 L74.5,278.7 L72.7,279.7 L71.0,280.8 L69.3,281.8 L67.6,282.8 L66.0,283.9 L64.3,285.1 L62.7,286.2 L61.1,287.5 L59.6,288.7 L58.1,290.1 L56.6,291.5 Z"/>
<path d="M55,293.4 L80,276.6 L81,282.2 Q69.5,291 69.6,294.6 Q70,298.5 80,306.6 L80,309.3 Z"/>
<path d="M302.5,224.7 L300.5,224.8 L298.5,224.9 L296.5,225.0 L294.6,225.2 L292.6,225.3 L290.6,225.5 L288.6,225.6 L286.6,225.8 L284.6,226.0 L282.6,226.2 L280.6,226.4 L278.6,226.6 L276.6,226.9 L274.6,227.2 L272.7,227.4 L270.7,227.7 L268.7,228.1 L266.7,228.4 L264.7,228.8 L262.8,229.1 L260.8,229.5 L258.8,229.9 L256.9,230.4 L254.9,230.8 L252.9,231.3 L251.0,231.8 L249.1,232.4 L247.1,232.9 L245.2,233.5 L243.3,234.1 L241.4,234.7 L239.4,235.4 L237.5,236.0 L235.6,236.8 L233.8,237.5 L231.9,238.2 L230.0,239.0 L228.1,239.9 L226.3,240.7 L224.4,241.6 L222.6,242.5 L220.8,243.4 L218.9,244.4 L217.1,245.4 L215.3,246.5 L213.6,247.6 L211.8,248.7 L210.1,249.9 L208.4,251.2 L206.8,252.5 L205.2,253.9 L203.7,255.4 L202.3,256.9 L200.9,258.5 L199.6,260.2 L198.4,261.9 L197.3,263.8 L196.3,265.7 L195.5,267.6 L194.7,269.7 L194.1,271.7 L193.5,273.8 L193.0,275.8 L192.6,277.9 L192.3,280.0 L192.0,282.0 L191.8,284.1 L191.6,286.1 L191.5,288.2 L191.5,290.2 L191.5,292.3 L191.6,294.4 L191.8,296.5 L192.1,298.6 L192.5,300.7 L192.9,302.7 L193.4,304.8 L194.0,306.8 L194.6,308.8 L195.4,310.8 L196.2,312.8 L197.0,314.7 L198.0,316.6 L199.0,318.4 L200.1,320.2 L201.3,322.0 L202.6,323.6 L203.9,325.2 L205.3,326.8 L206.7,328.3 L208.2,329.7 L209.8,331.0 L211.3,332.3 L213.0,333.6 L214.7,334.8 L216.4,335.9 L218.1,337.0 L219.9,338.1 L221.7,339.1 L223.5,340.0 L225.3,340.9 L227.2,341.8 L229.1,342.6 L230.9,343.4 L232.8,344.2 L234.7,344.9 L236.6,345.6 L238.6,346.3 L240.5,347.0 L242.4,347.6 L244.3,348.2 L246.3,348.7 L248.2,349.3 L250.2,349.8 L252.1,350.3 L254.1,350.8 L256.0,351.3 L258.0,351.7 L259.9,352.1 L261.9,352.5 L263.9,352.9 L265.8,353.3 L267.8,353.6 L269.8,354.0 L271.8,354.3 L273.7,354.6 L275.7,354.9 L277.7,355.2 L279.7,355.5 L281.6,355.7 L283.6,356.0 L285.6,356.3 L287.6,356.5 L289.6,356.7 L291.5,356.9 L293.5,357.2 L295.5,357.4 L297.4,357.6 L299.4,357.8 L299.7,355.9 L297.8,355.5 L295.8,355.1 L293.9,354.7 L291.9,354.3 L290.0,353.9 L288.0,353.6 L286.1,353.2 L284.1,352.8 L282.2,352.5 L280.2,352.1 L278.3,351.7 L276.3,351.4 L274.4,351.0 L272.4,350.6 L270.5,350.2 L268.5,349.8 L266.6,349.4 L264.7,349.0 L262.7,348.6 L260.8,348.1 L258.9,347.7 L257.0,347.2 L255.1,346.7 L253.2,346.2 L251.3,345.7 L249.4,345.2 L247.5,344.6 L245.6,344.0 L243.8,343.4 L241.9,342.7 L240.1,342.1 L238.3,341.4 L236.4,340.6 L234.6,339.9 L232.8,339.1 L231.0,338.3 L229.3,337.4 L227.5,336.5 L225.8,335.6 L224.1,334.6 L222.5,333.7 L220.9,332.6 L219.3,331.6 L217.7,330.5 L216.2,329.3 L214.7,328.2 L213.3,326.9 L211.9,325.7 L210.6,324.4 L209.3,323.1 L208.1,321.7 L206.9,320.2 L205.7,318.8 L204.7,317.2 L203.6,315.7 L202.7,314.0 L201.8,312.4 L200.9,310.6 L200.1,308.9 L199.4,307.1 L198.8,305.3 L198.2,303.5 L197.7,301.6 L197.3,299.7 L196.9,297.8 L196.7,295.9 L196.5,294.1 L196.4,292.2 L196.4,290.3 L196.5,288.4 L196.7,286.6 L197.0,284.7 L197.3,282.8 L197.7,281.0 L198.1,279.1 L198.7,277.2 L199.2,275.4 L199.8,273.6 L200.5,271.8 L201.3,270.2 L202.1,268.6 L202.9,267.0 L203.9,265.5 L204.9,264.0 L206.0,262.6 L207.2,261.2 L208.4,259.9 L209.7,258.6 L211.0,257.3 L212.4,256.1 L213.9,254.9 L215.4,253.7 L216.9,252.5 L218.5,251.4 L220.1,250.4 L221.8,249.3 L223.5,248.3 L225.2,247.3 L226.9,246.4 L228.6,245.5 L230.4,244.6 L232.1,243.8 L233.9,242.9 L235.7,242.1 L237.5,241.4 L239.3,240.7 L241.1,239.9 L242.9,239.3 L244.8,238.6 L246.6,238.0 L248.5,237.4 L250.4,236.8 L252.2,236.2 L254.1,235.7 L256.0,235.2 L257.9,234.7 L259.8,234.2 L261.7,233.8 L263.6,233.3 L265.6,232.9 L267.5,232.5 L269.4,232.1 L271.4,231.7 L273.3,231.3 L275.2,231.0 L277.2,230.6 L279.1,230.3 L281.1,230.0 L283.1,229.6 L285.0,229.3 L287.0,229.0 L288.9,228.7 L290.9,228.4 L292.9,228.2 L294.8,227.9 L296.8,227.6 L298.8,227.3 L300.7,227.0 L302.7,226.8 Z"/>
<path d="M203.6,264 C203.6,269 204.5,272.2 206.5,273.5 C209,275 211.8,275.8 219.7,277.5 C223,278.4 225.2,280.5 225.6,284 L225.8,299.6 Q224.2,301.4 222.6,299.6 L222.6,285 C222.4,281.6 221,280.3 218.5,279.8 C215,279 210,278.8 205.2,279.8 C201,281 198.3,284 196.8,288.6 L192.3,285 L196,266 Z"/>
<path d="M603.9,225.5 L605.9,226.0 L607.8,226.5 L609.8,227.0 L611.7,227.5 L613.7,227.9 L615.6,228.4 L617.6,228.9 L619.5,229.3 L621.5,229.7 L623.4,230.2 L625.4,230.6 L627.4,231.0 L629.3,231.4 L631.3,231.8 L633.2,232.1 L635.2,232.5 L637.1,232.9 L639.1,233.3 L641.1,233.6 L643.0,234.0 L645.0,234.3 L647.0,234.7 L648.9,235.0 L650.9,235.4 L652.9,235.7 L654.8,236.0 L656.8,236.4 L658.8,236.7 L660.8,237.0 L662.7,237.4 L664.7,237.7 L666.7,238.0 L668.7,238.4 L670.6,238.7 L672.6,239.0 L674.6,239.3 L676.6,239.7 L678.5,240.0 L680.5,240.3 L682.5,240.7 L684.5,241.0 L686.4,241.4 L688.4,241.7 L690.4,242.1 L692.3,242.4 L694.3,242.8 L696.3,243.1 L698.2,243.5 L700.2,243.9 L702.2,244.2 L704.1,244.6 L706.1,245.0 L708.0,245.4 L710.0,245.8 L711.9,246.2 L713.9,246.6 L715.8,247.0 L717.7,247.4 L719.7,247.9 L721.6,248.3 L723.5,248.8 L725.4,249.2 L727.4,249.7 L729.3,250.1 L731.2,250.6 L733.1,251.1 L735.0,251.6 L737.0,252.1 L738.9,252.6 L740.8,253.1 L742.7,253.7 L744.6,254.2 L746.5,254.7 L748.4,255.3 L750.3,255.8 L752.3,256.4 L754.2,256.9 L756.1,257.5 L758.0,258.1 L759.9,258.7 L761.9,259.2 L763.8,259.8 L765.7,260.4 L767.6,261.0 L769.6,261.6 L771.5,262.3 L773.4,262.9 L775.4,263.5 L777.3,264.1 L779.2,264.8 L781.1,265.5 L782.9,266.2 L784.8,266.9 L786.5,267.7 L788.3,268.6 L790.0,269.5 L791.6,270.4 L793.2,271.4 L794.7,272.5 L796.1,273.7 L797.5,275.0 L798.8,276.3 L800.0,277.7 L801.2,279.3 L802.2,280.9 L803.1,282.6 L803.9,284.3 L804.4,286.1 L804.8,287.9 L804.9,289.6 L804.8,291.3 L804.4,293.0 L803.9,294.7 L803.2,296.2 L802.2,297.6 L801.1,299.0 L799.8,300.4 L798.3,301.6 L796.8,302.9 L795.3,304.1 L793.7,305.3 L792.1,306.4 L790.4,307.5 L788.8,308.6 L787.1,309.6 L785.4,310.6 L783.7,311.6 L782.0,312.5 L780.2,313.4 L778.4,314.2 L776.6,315.1 L774.8,315.9 L773.0,316.6 L771.2,317.4 L769.4,318.1 L767.5,318.8 L765.6,319.5 L763.8,320.1 L761.9,320.8 L760.0,321.4 L758.1,322.0 L756.2,322.6 L754.3,323.1 L752.4,323.7 L750.4,324.2 L748.5,324.7 L746.6,325.3 L744.6,325.8 L742.7,326.3 L740.8,326.8 L738.9,327.2 L736.9,327.7 L735.0,328.2 L733.1,328.6 L731.1,329.1 L729.2,329.5 L727.3,330.0 L725.3,330.4 L723.4,330.8 L721.4,331.2 L719.5,331.6 L717.6,332.0 L715.6,332.4 L713.7,332.8 L711.7,333.2 L709.8,333.6 L707.8,333.9 L705.9,334.3 L703.9,334.7 L701.9,335.0 L700.0,335.4 L698.0,335.7 L696.1,336.0 L694.1,336.4 L692.1,336.7 L690.1,337.0 L688.2,337.3 L686.2,337.7 L684.2,338.0 L682.2,338.3 L680.3,338.6 L678.3,338.9 L676.3,339.1 L674.3,339.4 L672.3,339.7 L670.4,340.0 L668.4,340.2 L666.4,340.5 L664.4,340.8 L662.4,341.0 L660.5,341.3 L658.5,341.5 L656.5,341.8 L654.5,342.0 L652.5,342.2 L650.6,342.5 L648.6,342.7 L646.6,343.0 L644.6,343.2 L642.6,343.5 L640.6,343.8 L638.6,344.2 L636.7,344.6 L634.7,345.0 L632.7,345.5 L630.8,345.9 L628.8,346.4 L626.9,346.9 L625.0,347.4 L623.0,347.8 L621.1,348.3 L619.1,348.7 L617.2,349.1 L615.2,349.4 L613.3,349.7 L611.3,350.0 L611.3,350.8 L613.3,350.8 L615.4,350.7 L617.4,350.6 L619.4,350.4 L621.4,350.2 L623.4,350.0 L625.4,349.8 L627.4,349.6 L629.4,349.3 L631.4,349.1 L633.4,348.8 L635.3,348.5 L637.3,348.2 L639.3,348.0 L641.2,347.7 L643.2,347.5 L645.1,347.3 L647.1,347.0 L649.1,346.8 L651.0,346.6 L653.0,346.3 L655.0,346.1 L657.0,345.9 L659.0,345.6 L661.0,345.4 L663.0,345.1 L665.0,344.9 L666.9,344.6 L668.9,344.3 L670.9,344.0 L672.9,343.8 L674.9,343.5 L676.9,343.2 L678.9,342.9 L680.9,342.6 L682.9,342.3 L684.8,342.0 L686.8,341.7 L688.8,341.4 L690.8,341.0 L692.8,340.7 L694.8,340.4 L696.7,340.0 L698.7,339.7 L700.7,339.3 L702.7,339.0 L704.6,338.6 L706.6,338.2 L708.6,337.9 L710.5,337.5 L712.5,337.1 L714.4,336.7 L716.4,336.3 L718.4,335.9 L720.3,335.5 L722.3,335.1 L724.2,334.6 L726.2,334.2 L728.1,333.8 L730.1,333.3 L732.0,332.9 L734.0,332.4 L735.9,331.9 L737.8,331.5 L739.8,331.0 L741.7,330.5 L743.7,330.0 L745.6,329.5 L747.6,328.9 L749.5,328.4 L751.5,327.9 L753.4,327.3 L755.3,326.7 L757.3,326.2 L759.2,325.6 L761.1,324.9 L763.1,324.3 L765.0,323.7 L766.9,323.0 L768.8,322.3 L770.7,321.6 L772.6,320.8 L774.5,320.0 L776.3,319.2 L778.2,318.4 L780.0,317.6 L781.8,316.7 L783.7,315.7 L785.4,314.8 L787.2,313.8 L789.0,312.8 L790.7,311.7 L792.5,310.6 L794.2,309.5 L795.8,308.3 L797.5,307.0 L799.1,305.8 L800.8,304.4 L802.3,303.0 L803.8,301.5 L805.2,299.8 L806.4,298.0 L807.3,296.1 L808.0,294.0 L808.4,291.8 L808.6,289.6 L808.4,287.4 L808.0,285.2 L807.3,283.1 L806.5,281.0 L805.4,279.0 L804.2,277.2 L803.0,275.4 L801.6,273.8 L800.1,272.3 L798.6,270.9 L797.0,269.6 L795.3,268.3 L793.6,267.2 L791.8,266.2 L790.0,265.2 L788.2,264.3 L786.3,263.4 L784.4,262.6 L782.5,261.9 L780.5,261.1 L778.6,260.4 L776.6,259.8 L774.7,259.1 L772.7,258.5 L770.8,257.9 L768.8,257.3 L766.9,256.6 L765.0,256.0 L763.0,255.4 L761.1,254.8 L759.2,254.3 L757.2,253.7 L755.3,253.1 L753.4,252.5 L751.5,252.0 L749.5,251.4 L747.6,250.9 L745.7,250.3 L743.8,249.8 L741.8,249.3 L739.9,248.8 L738.0,248.3 L736.1,247.7 L734.1,247.2 L732.2,246.7 L730.3,246.3 L728.3,245.8 L726.4,245.3 L724.5,244.8 L722.5,244.4 L720.6,243.9 L718.6,243.5 L716.7,243.0 L714.7,242.6 L712.8,242.1 L710.8,241.7 L708.9,241.3 L706.9,240.9 L704.9,240.5 L703.0,240.1 L701.0,239.7 L699.0,239.3 L697.1,238.9 L695.1,238.5 L693.1,238.1 L691.2,237.7 L689.2,237.4 L687.2,237.0 L685.2,236.6 L683.3,236.3 L681.3,235.9 L679.3,235.6 L677.3,235.2 L675.4,234.9 L673.4,234.5 L671.4,234.2 L669.4,233.9 L667.4,233.5 L665.5,233.2 L663.5,232.9 L661.5,232.5 L659.5,232.2 L657.6,231.9 L655.6,231.6 L653.6,231.2 L651.6,230.9 L649.7,230.6 L647.7,230.3 L645.7,230.0 L643.8,229.6 L641.8,229.3 L639.8,229.0 L637.9,228.7 L635.9,228.4 L633.9,228.2 L631.9,227.9 L630.0,227.6 L628.0,227.3 L626.0,227.1 L624.0,226.8 L622.0,226.5 L620.1,226.3 L618.1,226.1 L616.1,225.8 L614.1,225.6 L612.1,225.4 L610.1,225.2 L608.1,225.0 L606.1,224.9 L604.1,224.7 Z"/>
<path d="M630.2,258.4 L630.2,244 C630.4,237 627,231.5 618,227.5 L604,225 L668,236 C650,235.2 638,235.6 634.2,239.5 C633,241 632.8,243 632.8,246 L632.8,258.4 Z"/><path d="M631.2,317 L631.2,331 C631,338.5 627,346 615,349.6 L611.3,350.7 L662,345 C650,342.6 640,341.6 636.4,337.5 C634.3,335 633.8,333 633.8,330 L633.8,317 Z"/>
<path d="M534.6,217.2 L535.4,217.3 L536.2,217.3 L536.9,217.4 L537.7,217.5 L538.5,217.5 L539.3,217.6 L540.1,217.7 L541.0,217.7 L541.9,217.8 L542.8,217.9 L543.8,218.0 L544.8,218.0 L545.9,218.1 L546.9,218.2 L547.9,218.3 L548.8,218.3 L549.7,218.4 L550.6,218.5 L551.6,218.6 L552.4,218.7 L553.3,218.8 L554.2,218.9 L555.0,219.0 L555.8,219.0 L556.6,219.1 L557.3,219.2 L558.0,219.3 L558.6,219.4 L559.3,219.4 L560.0,219.5 L560.8,219.7 L561.8,219.8 L562.9,220.0 L564.1,220.3 L565.5,220.5 L566.9,220.8 L568.4,221.1 L569.8,221.4 L571.1,221.7 L572.3,221.9 L573.4,222.1 L574.4,222.3 L575.3,222.5 L576.3,222.7 L577.1,222.8 L578.0,223.0 L578.8,223.1 L579.6,223.3 L580.4,223.4 L581.1,223.6 L581.8,223.7 L582.5,223.8 L583.1,223.9 L583.8,224.0 L584.4,224.1 L585.1,224.3 L585.5,223.1 L584.9,222.8 L584.3,222.5 L583.7,222.2 L583.1,221.9 L582.5,221.6 L581.8,221.3 L581.1,221.0 L580.4,220.7 L579.6,220.4 L578.8,220.1 L578.0,219.8 L577.1,219.5 L576.2,219.2 L575.2,218.9 L574.2,218.6 L573.1,218.3 L571.9,218.0 L570.6,217.7 L569.2,217.3 L567.7,217.0 L566.3,216.7 L564.9,216.4 L563.6,216.2 L562.4,216.0 L561.4,215.8 L560.5,215.7 L559.8,215.6 L559.0,215.5 L558.3,215.5 L557.6,215.4 L556.9,215.4 L556.2,215.4 L555.3,215.3 L554.5,215.3 L553.6,215.2 L552.7,215.2 L551.8,215.1 L550.9,215.1 L549.9,215.1 L549.0,215.1 L548.0,215.0 L547.0,215.0 L546.0,215.0 L545.0,215.0 L543.9,215.0 L542.9,215.0 L542.0,215.0 L541.0,215.1 L540.1,215.1 L539.3,215.1 L538.5,215.2 L537.7,215.3 L536.9,215.4 L536.2,215.4 L535.4,215.5 L534.6,215.6 Z"/><path d="M503.9,214.0 L504.3,214.0 L504.7,213.9 L505.1,213.8 L505.5,213.8 L505.9,213.8 L506.3,213.7 L506.9,213.7 L507.4,213.6 L508.1,213.6 L508.9,213.6 L509.7,213.6 L510.6,213.6 L511.5,213.6 L512.4,213.6 L513.2,213.6 L514.0,213.6 L514.7,213.7 L515.4,213.7 L516.0,213.7 L516.7,213.7 L517.3,213.7 L517.9,213.7 L518.4,213.7 L519.0,213.7 L519.5,213.7 L519.9,213.7 L520.4,213.7 L520.8,213.7 L521.2,213.7 L521.6,213.7 L522.0,213.7 L522.4,213.6 L522.4,212.0 L522.0,211.9 L521.6,211.9 L521.2,211.9 L520.8,211.8 L520.4,211.8 L520.0,211.8 L519.5,211.7 L519.0,211.7 L518.5,211.7 L517.9,211.7 L517.3,211.6 L516.7,211.6 L516.1,211.6 L515.4,211.6 L514.7,211.6 L514.0,211.6 L513.3,211.5 L512.4,211.5 L511.6,211.4 L510.7,211.4 L509.8,211.3 L509.0,211.3 L508.2,211.2 L507.6,211.2 L507.0,211.1 L506.5,211.0 L506.1,210.9 L505.7,210.8 L505.3,210.7 L504.9,210.6 L504.5,210.5 L504.1,210.4 Z"/><path d="M503.5,366.4 L503.9,366.2 L504.2,365.9 L504.6,365.7 L505.0,365.5 L505.3,365.2 L505.7,365.0 L506.1,364.9 L506.5,364.7 L506.9,364.6 L507.2,364.5 L507.6,364.4 L508.0,364.3 L508.5,364.3 L508.9,364.3 L509.3,364.2 L509.8,364.2 L510.3,364.2 L510.8,364.1 L511.3,364.1 L511.8,364.1 L512.3,364.1 L512.8,364.1 L513.4,364.1 L513.9,364.1 L514.5,364.1 L515.1,364.2 L515.8,364.2 L516.4,364.2 L517.1,364.2 L517.7,364.2 L518.3,364.2 L519.0,364.1 L519.6,364.1 L520.2,364.1 L520.7,364.0 L521.3,364.0 L521.9,363.9 L522.5,363.9 L523.1,363.8 L523.7,363.8 L523.7,362.6 L523.1,362.5 L522.6,362.4 L522.0,362.3 L521.4,362.2 L520.8,362.1 L520.2,362.0 L519.6,361.9 L519.0,361.9 L518.4,361.8 L517.8,361.7 L517.1,361.7 L516.5,361.6 L515.9,361.6 L515.2,361.6 L514.6,361.5 L514.1,361.5 L513.5,361.4 L513.0,361.3 L512.5,361.3 L512.0,361.2 L511.5,361.1 L511.0,361.0 L510.6,360.9 L510.2,360.8 L509.8,360.7 L509.4,360.5 L509.1,360.4 L508.8,360.2 L508.5,360.0 L508.1,359.8 L507.8,359.6 L507.5,359.3 L507.2,359.0 L507.0,358.7 L506.7,358.4 L506.5,358.0 L506.2,357.7 L506.0,357.3 L505.7,356.9 L505.5,356.6 Z"/><path d="M543.3,360.5 L544.1,360.7 L544.9,360.8 L545.8,361.0 L546.6,361.1 L547.5,361.2 L548.3,361.4 L549.1,361.5 L549.9,361.6 L550.7,361.7 L551.5,361.8 L552.3,361.8 L553.0,361.9 L553.8,362.0 L554.5,362.0 L555.3,362.0 L556.1,362.0 L556.9,362.1 L557.6,362.0 L558.4,362.0 L559.2,362.0 L560.0,361.9 L560.7,361.9 L561.5,361.8 L562.3,361.7 L563.0,361.6 L563.8,361.5 L564.6,361.4 L565.4,361.3 L566.1,361.1 L566.9,360.9 L567.7,360.8 L568.4,360.5 L569.2,360.3 L570.0,360.1 L570.8,359.8 L571.6,359.5 L572.4,359.3 L573.1,359.0 L573.8,358.7 L574.5,358.4 L575.1,358.2 L575.6,357.9 L576.1,357.7 L576.6,357.4 L577.1,357.2 L577.5,356.9 L577.9,356.7 L578.4,356.4 L578.8,356.2 L579.3,355.9 L579.7,355.6 L580.2,355.4 L580.6,355.1 L581.0,354.8 L581.4,354.5 L581.9,354.3 L581.5,353.5 L581.0,353.7 L580.6,353.8 L580.1,353.9 L579.6,354.1 L579.1,354.2 L578.6,354.3 L578.1,354.4 L577.6,354.6 L577.1,354.7 L576.6,354.8 L576.2,354.9 L575.7,355.1 L575.2,355.2 L574.7,355.3 L574.1,355.4 L573.5,355.6 L572.9,355.7 L572.2,355.9 L571.4,356.0 L570.6,356.2 L569.9,356.4 L569.1,356.5 L568.3,356.7 L567.6,356.9 L566.8,357.0 L566.1,357.1 L565.4,357.3 L564.6,357.4 L563.9,357.5 L563.2,357.6 L562.5,357.7 L561.7,357.9 L561.0,358.0 L560.3,358.1 L559.5,358.2 L558.8,358.4 L558.1,358.5 L557.4,358.6 L556.6,358.7 L555.9,358.8 L555.2,358.8 L554.5,358.9 L553.8,358.9 L553.1,358.9 L552.3,358.9 L551.6,359.0 L550.8,359.0 L550.1,359.0 L549.3,359.0 L548.4,359.1 L547.6,359.1 L546.8,359.1 L545.9,359.2 L545.0,359.2 L544.2,359.2 L543.3,359.3 Z"/>
<path d="M163.8,283.3 L175,283 Q181,282.2 184.2,278.8 Q185.4,285 186.3,291.4 Q183,287.2 176.5,286.9 L166.9,286.9 L166.9,297.5 L176.5,297.4 Q182,297 185.2,295.2 Q186.4,300 188.8,305.9 Q183.5,301.9 176,301.6 L164.2,301.6 Q163,301.6 163,300.4 L162.9,284.4 Q162.9,283.3 163.8,283.3 Z"/></g>
<path d="M44,647.5 L50,646 L66,646.6 L52,648.3 Z" fill="#c4c4c4"/>
<g opacity="0.999"><text transform="translate(48.0 47.0) rotate(0.0)" textLength="123.0" lengthAdjust="spacingAndGlyphs" style="font-size:10.6px;font-style:italic;" fill="#3e3e3e" stroke="#3e3e3e" stroke-width="0.12" xml:space="preserve">continous participation events;</text>
<text transform="translate(48.0 62.4) rotate(0.0)" textLength="169.3" lengthAdjust="spacingAndGlyphs" style="font-size:10.6px;font-style:italic;" fill="#3e3e3e" stroke="#3e3e3e" stroke-width="0.12" xml:space="preserve">philip corner &amp; alex gross &amp; ilene astrakan</text>
<text transform="translate(48.0 77.4) rotate(0.0)" textLength="207.2" lengthAdjust="spacingAndGlyphs" style="font-size:10.6px;font-style:italic;" fill="#3e3e3e" stroke="#3e3e3e" stroke-width="0.12" xml:space="preserve">susan hartung &amp; julie winter  piece for wanted faces</text>
<text transform="translate(48.0 92.0) rotate(0.0)" textLength="42.4" lengthAdjust="spacingAndGlyphs" style="font-size:10.6px;font-style:italic;" fill="#3e3e3e" stroke="#3e3e3e" stroke-width="0.12" xml:space="preserve">tal streeter</text>
<text transform="translate(48.0 107.0) rotate(0.0)" textLength="92.4" lengthAdjust="spacingAndGlyphs" style="font-size:10.6px;font-style:italic;" fill="#3e3e3e" stroke="#3e3e3e" stroke-width="0.12" xml:space="preserve">david silver  philibuster</text>
<text transform="translate(84.0 259.0) rotate(-35.8)" textLength="154.0" lengthAdjust="spacingAndGlyphs" style="font-size:10.6px;font-style:italic;" fill="#4a4a4a" stroke="#4a4a4a" stroke-width="0.08" xml:space="preserve">9  yoko ono  if it fits - you can have it</text>
<text transform="translate(236.0 155.6) rotate(-31.8)" textLength="54.3" lengthAdjust="spacingAndGlyphs" style="font-size:10.6px;font-style:italic;" fill="#4a4a4a" stroke="#4a4a4a" stroke-width="0.08" xml:space="preserve">27  rudi stern</text>
<text transform="translate(192.8 204.3) rotate(-29.0)" textLength="230.4" lengthAdjust="spacingAndGlyphs" style="font-size:10.6px;font-style:italic;" fill="#4a4a4a" stroke="#4a4a4a" stroke-width="0.08" xml:space="preserve">26  shigeko kubota  video birthday party for john cage II</text>
<text transform="translate(313.7 112.4) rotate(-28.1)" textLength="60.9" lengthAdjust="spacingAndGlyphs" style="font-size:10.6px;font-style:italic;" fill="#4a4a4a" stroke="#4a4a4a" stroke-width="0.08" xml:space="preserve">29  video freex</text>
<text transform="translate(324.9 156.1) rotate(-21.4)" textLength="77.2" lengthAdjust="spacingAndGlyphs" style="font-size:10.6px;font-style:italic;" fill="#4a4a4a" stroke="#4a4a4a" stroke-width="0.08" xml:space="preserve">25  hermann nitsch</text>
<text transform="translate(287.5 188.1) rotate(-20.3)" textLength="85.2" lengthAdjust="spacingAndGlyphs" style="font-size:10.6px;font-style:italic;" fill="#4a4a4a" stroke="#4a4a4a" stroke-width="0.08" xml:space="preserve">22  dr franklin morris</text>
<text transform="translate(430.0 113.6) rotate(-18.8)" textLength="75.1" lengthAdjust="spacingAndGlyphs" style="font-size:10.6px;font-style:italic;" fill="#4a4a4a" stroke="#4a4a4a" stroke-width="0.08" xml:space="preserve">28  marie niforatos</text>
<text transform="translate(403.6 148.6) rotate(-17.7)" textLength="58.9" lengthAdjust="spacingAndGlyphs" style="font-size:10.6px;font-style:italic;" fill="#4a4a4a" stroke="#4a4a4a" stroke-width="0.08" xml:space="preserve">24  alvin lucier</text>
<text transform="translate(386.0 179.4) rotate(-13.9)" textLength="27.1" lengthAdjust="spacingAndGlyphs" style="font-size:10.6px;font-style:italic;" fill="#4a4a4a" stroke="#4a4a4a" stroke-width="0.08" xml:space="preserve">23  iris</text>
<text transform="translate(435.3 161.9) rotate(-14.7)" textLength="35.6" lengthAdjust="spacingAndGlyphs" style="font-size:10.6px;font-style:italic;" fill="#4a4a4a" stroke="#4a4a4a" stroke-width="0.08" xml:space="preserve">13  toilet</text>
<text transform="translate(503.6 106.2) rotate(-17.5)" textLength="201.9" lengthAdjust="spacingAndGlyphs" style="font-size:10.6px;font-style:italic;" fill="#4a4a4a" stroke="#4a4a4a" stroke-width="0.08" xml:space="preserve">30  ralph hocking &amp; bob diamond &amp; ken dominick</text>
<text transform="translate(496.2 147.9) rotate(-12.6)" textLength="345.6" lengthAdjust="spacingAndGlyphs" style="font-size:10.6px;font-style:italic;" fill="#4a4a4a" stroke="#4a4a4a" stroke-width="0.08" xml:space="preserve">20  ed summerlin  jazz  with brenda bufalino &amp; don heckman &amp; the jimmy guiffre trio</text>
<text transform="translate(465.0 175.3) rotate(-9.5)" textLength="405.3" lengthAdjust="spacingAndGlyphs" style="font-size:10.6px;font-style:italic;" fill="#4a4a4a" stroke="#4a4a4a" stroke-width="0.08" xml:space="preserve">18  juan downey  3 way communication by light  with bill gerstein &amp; laura paklan &amp; marilys downey</text>
<text transform="translate(592.3 181.0) rotate(-8.1)" textLength="241.1" lengthAdjust="spacingAndGlyphs" style="font-size:10.6px;font-style:italic;" fill="#4a4a4a" stroke="#4a4a4a" stroke-width="0.08" xml:space="preserve">21  eugene dolgoff &amp; lynda rodolitz  science fair holography</text>
<text transform="translate(681.2 199.2) rotate(-8.6)" textLength="83.5" lengthAdjust="spacingAndGlyphs" style="font-size:10.6px;font-style:italic;" fill="#4a4a4a" stroke="#4a4a4a" stroke-width="0.08" xml:space="preserve">19  david nunemaker</text>
<text transform="translate(104.0 339.5) rotate(25.2)" textLength="62.5" lengthAdjust="spacingAndGlyphs" style="font-size:10.6px;font-style:italic;" fill="#4a4a4a" stroke="#4a4a4a" stroke-width="0.08" xml:space="preserve">31  william etra</text>
<text transform="translate(113.5 366.5) rotate(42.0)" textLength="54.0" lengthAdjust="spacingAndGlyphs" style="font-size:10.6px;font-style:italic;" fill="#4a4a4a" stroke="#4a4a4a" stroke-width="0.08" xml:space="preserve">32  louise etra</text>
<text transform="translate(123.7 409.9) rotate(33.2)" textLength="140.3" lengthAdjust="spacingAndGlyphs" style="font-size:10.6px;font-style:italic;" fill="#4a4a4a" stroke="#4a4a4a" stroke-width="0.08" xml:space="preserve">6  henry niese  mondala eye banner</text>
<text transform="translate(169.9 404.9) rotate(29.8)" textLength="50.3" lengthAdjust="spacingAndGlyphs" style="font-size:10.6px;font-style:italic;" fill="#4a4a4a" stroke="#4a4a4a" stroke-width="0.08" xml:space="preserve">10  joe jones</text>
<text transform="translate(204.6 388.0) rotate(23.1)" textLength="151.4" lengthAdjust="spacingAndGlyphs" style="font-size:10.6px;font-style:italic;" fill="#4a4a4a" stroke="#4a4a4a" stroke-width="0.08" xml:space="preserve">11  joe millions &amp; charlotte moorman</text>
<text transform="translate(224.8 416.1) rotate(25.8)" textLength="86.0" lengthAdjust="spacingAndGlyphs" style="font-size:10.6px;font-style:italic;" fill="#4a4a4a" stroke="#4a4a4a" stroke-width="0.08" xml:space="preserve">33  davidson gigliotti</text>
<text transform="translate(242.4 456.5) rotate(29.6)" textLength="98.3" lengthAdjust="spacingAndGlyphs" style="font-size:10.6px;font-style:italic;" fill="#4a4a4a" stroke="#4a4a4a" stroke-width="0.08" xml:space="preserve">7  willard van der bogart</text>
<text transform="translate(327.9 472.4) rotate(22.6)" textLength="74.6" lengthAdjust="spacingAndGlyphs" style="font-size:10.6px;font-style:italic;" fill="#4a4a4a" stroke="#4a4a4a" stroke-width="0.08" xml:space="preserve">15  frank braynard</text>
<text transform="translate(372.3 440.0) rotate(19.8)" textLength="128.9" lengthAdjust="spacingAndGlyphs" style="font-size:10.6px;font-style:italic;" fill="#4a4a4a" stroke="#4a4a4a" stroke-width="0.08" xml:space="preserve">12  susan hartung &amp; julie winter</text>
<text transform="translate(424.6 439.2) rotate(14.6)" textLength="79.2" lengthAdjust="spacingAndGlyphs" style="font-size:10.6px;font-style:italic;" fill="#4a4a4a" stroke="#4a4a4a" stroke-width="0.08" xml:space="preserve">14  ben vautier  ego</text>
<text transform="translate(545.4 463.6) rotate(13.6)" textLength="120.2" lengthAdjust="spacingAndGlyphs" style="font-size:10.6px;font-style:italic;" fill="#4a4a4a" stroke="#4a4a4a" stroke-width="0.08" xml:space="preserve">16  haig oudjian &amp; bill denner</text>
<text transform="translate(586.1 444.7) rotate(12.7)" textLength="113.4" lengthAdjust="spacingAndGlyphs" style="font-size:10.6px;font-style:italic;" fill="#4a4a4a" stroke="#4a4a4a" stroke-width="0.08" xml:space="preserve">8  marilyn wood  pier dance</text>
<text transform="translate(637.9 433.7) rotate(7.8)" textLength="36.7" lengthAdjust="spacingAndGlyphs" style="font-size:10.6px;font-style:italic;" fill="#4a4a4a" stroke="#4a4a4a" stroke-width="0.08" xml:space="preserve">13  toilet</text>
<text transform="translate(689.0 386.0) rotate(2.3)" textLength="101.8" lengthAdjust="spacingAndGlyphs" style="font-size:10.6px;font-style:italic;" fill="#4a4a4a" stroke="#4a4a4a" stroke-width="0.08" xml:space="preserve">17  hans joachim dietrich</text>
<text transform="translate(52.0 591.6) rotate(0.3)" textLength="287.0" lengthAdjust="spacingAndGlyphs" style="font-size:10.6px;font-style:italic;" fill="#3e3e3e" stroke="#3e3e3e" stroke-width="0.12" xml:space="preserve">diving equiptment courtesy of international underwater contractors inc</text>
<text transform="translate(52.0 612.2) rotate(0.2)" textLength="153.5" lengthAdjust="spacingAndGlyphs" style="font-size:10.6px;font-style:italic;" fill="#3e3e3e" stroke="#3e3e3e" stroke-width="0.12" xml:space="preserve">booker washington consultant &amp; diver</text>
<text transform="translate(52.4 633.0) rotate(0.4)" textLength="190.6" lengthAdjust="spacingAndGlyphs" style="font-size:10.6px;font-style:italic;" fill="#3e3e3e" stroke="#3e3e3e" stroke-width="0.12" xml:space="preserve">tank courtesy of kenmore furniture showrooms</text>
<text transform="translate(539.5 552.2) rotate(0.0)" textLength="64.9" lengthAdjust="spacingAndGlyphs" style="font-size:10.6px;font-style:italic;" fill="#3e3e3e" stroke="#3e3e3e" stroke-width="0.12" xml:space="preserve">at special times;</text>
<text transform="translate(539.5 567.4) rotate(0.0)" textLength="54.2" lengthAdjust="spacingAndGlyphs" style="font-size:10.6px;font-style:italic;" fill="#3e3e3e" stroke="#3e3e3e" stroke-width="0.12" xml:space="preserve">ralston farina</text>
<text transform="translate(606.2 567.4) rotate(0.0)" textLength="133.0" lengthAdjust="spacingAndGlyphs" style="font-size:10.6px;font-style:italic;" fill="#3e3e3e" stroke="#3e3e3e" stroke-width="0.12" xml:space="preserve">robert moran divertissement no I</text>
<text transform="translate(752.8 567.4) rotate(0.0)" textLength="56.0" lengthAdjust="spacingAndGlyphs" style="font-size:10.6px;font-style:italic;" fill="#3e3e3e" stroke="#3e3e3e" stroke-width="0.12" xml:space="preserve">cosmos savage</text>
<text transform="translate(821.7 567.4) rotate(0.0)" textLength="20.7" lengthAdjust="spacingAndGlyphs" style="font-size:10.6px;font-style:italic;" fill="#3e3e3e" stroke="#3e3e3e" stroke-width="0.12" xml:space="preserve">edith</text>
<text transform="translate(539.5 582.7) rotate(0.0)" textLength="271.8" lengthAdjust="spacingAndGlyphs" style="font-size:10.6px;font-style:italic;" fill="#3e3e3e" stroke="#3e3e3e" stroke-width="0.12" xml:space="preserve">stephên  dance weapons with mark mcgurty composer &amp; performer</text>
<text transform="translate(539.5 597.9) rotate(0.0)" textLength="149.0" lengthAdjust="spacingAndGlyphs" style="font-size:10.6px;font-style:italic;" fill="#3e3e3e" stroke="#3e3e3e" stroke-width="0.12" xml:space="preserve">elain summer  dance &amp; film company</text>
<text transform="translate(701.6 597.9) rotate(0.0)" textLength="148.0" lengthAdjust="spacingAndGlyphs" style="font-size:10.6px;font-style:italic;" fill="#3e3e3e" stroke="#3e3e3e" stroke-width="0.12" xml:space="preserve">gary weist &amp; the 4th wall demolition</text>
<text transform="translate(539.5 613.3) rotate(0.0)" textLength="101.1" lengthAdjust="spacingAndGlyphs" style="font-size:10.6px;font-style:italic;" fill="#3e3e3e" stroke="#3e3e3e" stroke-width="0.12" xml:space="preserve">company  down the tube</text>
<text transform="translate(654.2 613.3) rotate(0.0)" textLength="191.2" lengthAdjust="spacingAndGlyphs" style="font-size:10.6px;font-style:italic;" fill="#3e3e3e" stroke="#3e3e3e" stroke-width="0.12" xml:space="preserve">marilyn wood &amp; the celebrity group  pier dance</text>
<text transform="translate(431.2 37.0) rotate(0.0)" textLength="46.2" lengthAdjust="spacingAndGlyphs" style="font-size:11.8px;" fill="#444" stroke="#444" stroke-width="0.30" xml:space="preserve">main deck</text>
<text transform="translate(429.8 666.8) rotate(0.0)" textLength="19.6" lengthAdjust="spacingAndGlyphs" style="font-size:12.0px;" fill="#4a4a4a" stroke="#4a4a4a" stroke-width="0.25" xml:space="preserve">pier</text>
<text transform="translate(51.0 303.0) rotate(-90.0)" textLength="17.5" lengthAdjust="spacingAndGlyphs" style="font-size:11.0px;font-style:italic;" fill="#4a4a4a" stroke="#4a4a4a" stroke-width="0.08" xml:space="preserve">bow</text>
<text transform="translate(847.0 292.6) rotate(-90.0)" textLength="19.8" lengthAdjust="spacingAndGlyphs" style="font-size:11.0px;font-style:italic;" fill="#4a4a4a" stroke="#4a4a4a" stroke-width="0.08" xml:space="preserve">stern</text>
<text transform="translate(99.5 295.0) rotate(0.0)" style="font-size:13.0px;font-style:italic;" fill="#666" stroke="#666" stroke-width="0.10" xml:space="preserve">9</text>
<text transform="translate(167.4 253.1) rotate(0.0)" style="font-size:13.0px;font-style:italic;" fill="#666" stroke="#666" stroke-width="0.10" xml:space="preserve">28</text>
<text transform="translate(213.6 267.6) rotate(0.0)" style="font-size:13.0px;font-style:italic;" fill="#666" stroke="#666" stroke-width="0.10" xml:space="preserve">29</text>
<text transform="translate(202.3 296.9) rotate(0.0)" style="font-size:13.0px;font-style:italic;" fill="#666" stroke="#666" stroke-width="0.10" xml:space="preserve">31</text>
<text transform="translate(231.0 292.1) rotate(0.0)" style="font-size:13.0px;font-style:italic;" fill="#666" stroke="#666" stroke-width="0.10" xml:space="preserve">30</text>
<text transform="translate(203.6 349.8) rotate(0.0)" style="font-size:13.0px;font-style:italic;" fill="#666" stroke="#666" stroke-width="0.10" xml:space="preserve">10</text>
<text transform="translate(252.8 329.9) rotate(0.0)" style="font-size:13.0px;font-style:italic;" fill="#666" stroke="#666" stroke-width="0.10" xml:space="preserve">33</text>
<text transform="translate(282.1 242.4) rotate(0.0)" style="font-size:13.0px;font-style:italic;" fill="#666" stroke="#666" stroke-width="0.10" xml:space="preserve">27</text>
<text transform="translate(289.4 307.3) rotate(0.0)" style="font-size:13.0px;font-style:italic;" fill="#666" stroke="#666" stroke-width="0.10" xml:space="preserve">26</text>
<text transform="translate(354.3 335.0) rotate(0.0)" style="font-size:13.0px;font-style:italic;" fill="#666" stroke="#666" stroke-width="0.10" xml:space="preserve">15</text>
<text transform="translate(365.4 222.4) rotate(0.0)" style="font-size:13.0px;font-style:italic;" fill="#666" stroke="#666" stroke-width="0.10" xml:space="preserve">23</text>
<text transform="translate(404.3 220.4) rotate(0.0)" style="font-size:13.0px;font-style:italic;" fill="#666" stroke="#666" stroke-width="0.10" xml:space="preserve">24</text>
<text transform="translate(381.1 251.9) rotate(0.0)" style="font-size:13.0px;font-style:italic;" fill="#666" stroke="#666" stroke-width="0.10" xml:space="preserve">25</text>
<text transform="translate(379.9 294.9) rotate(0.0)" style="font-size:13.0px;font-style:italic;" fill="#666" stroke="#666" stroke-width="0.10" xml:space="preserve">22</text>
<text transform="translate(471.9 296.1) rotate(0.0)" style="font-size:13.0px;font-style:italic;" fill="#666" stroke="#666" stroke-width="0.10" xml:space="preserve">20</text>
<text transform="translate(475.2 225.8) rotate(0.0)" style="font-size:13.0px;font-style:italic;" fill="#666" stroke="#666" stroke-width="0.10" xml:space="preserve">13</text>
<text transform="translate(549.4 235.4) rotate(0.0)" style="font-size:13.0px;font-style:italic;" fill="#666" stroke="#666" stroke-width="0.10" xml:space="preserve">21</text>
<text transform="translate(561.8 292.9) rotate(0.0)" style="font-size:13.0px;font-style:italic;" fill="#666" stroke="#666" stroke-width="0.10" xml:space="preserve">19</text>
<text transform="translate(594.6 297.9) rotate(0.0)" style="font-size:13.0px;font-style:italic;" fill="#666" stroke="#666" stroke-width="0.10" xml:space="preserve">17</text>
<text transform="translate(532.4 337.8) rotate(0.0)" style="font-size:13.0px;font-style:italic;" fill="#666" stroke="#666" stroke-width="0.10" xml:space="preserve">16</text>
<text transform="translate(399.8 360.7) rotate(0.0)" style="font-size:13.0px;font-style:italic;" fill="#666" stroke="#666" stroke-width="0.10" xml:space="preserve">12</text>
<text transform="translate(475.5 360.7) rotate(0.0)" style="font-size:13.0px;font-style:italic;" fill="#666" stroke="#666" stroke-width="0.10" xml:space="preserve">13</text>
<text transform="translate(775.3 291.9) rotate(0.0)" style="font-size:13.0px;font-style:italic;" fill="#666" stroke="#666" stroke-width="0.10" xml:space="preserve">18</text>
<text transform="translate(535.2 297.4) rotate(-90.0)" style="font-size:13.0px;font-style:italic;" fill="#666" stroke="#666" stroke-width="0.10" xml:space="preserve">92</text>
<text transform="translate(340.4 425.2) rotate(0.0)" style="font-size:12.5px;" fill="#6c6c6c" stroke="#6c6c6c" stroke-width="0.10" xml:space="preserve">11</text>
<text transform="translate(409.3 409.7) rotate(0.0)" style="font-size:12.5px;" fill="#6c6c6c" stroke="#6c6c6c" stroke-width="0.10" xml:space="preserve">14</text>
<text transform="translate(551.9 484.3) rotate(0.0)" style="font-size:12.5px;" fill="#6c6c6c" stroke="#6c6c6c" stroke-width="0.10" xml:space="preserve">8</text>
<text transform="translate(141.8 521.0) rotate(0.0)" style="font-size:12.5px;font-style:italic;" fill="#777" stroke="#777" stroke-width="0.00" xml:space="preserve">6</text>
<text transform="translate(257.3 511.0) rotate(0.0)" style="font-size:12.5px;font-style:italic;" fill="#777" stroke="#777" stroke-width="0.00" xml:space="preserve">7</text></g>
</svg>
</body></html>
